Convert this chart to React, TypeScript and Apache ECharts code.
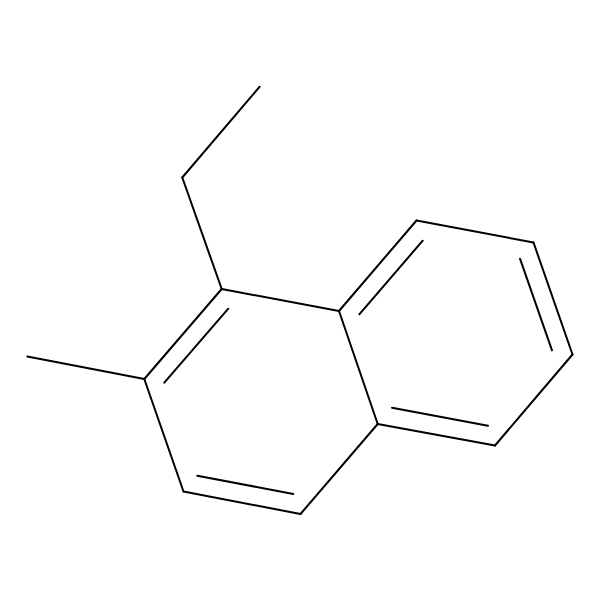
import React, { useEffect, useRef } from "react";
import * as echarts from "echarts";

// Skeleton bonds of 1-ethyl-2-methylnaphthalene: [x1, y1, x2, y2] in picture units
const ethylBonds = [
  [259.7, 86.7, 182.3, 177.5],
  [182.3, 177.5, 221.7, 289],
];
const methylBonds = [[27.3, 356.5, 144.3, 379]];
const leftRingBonds = [
  [221.7, 289, 339, 311],
  [339, 311, 377.7, 424],
  [377.7, 424, 300.5, 514],
  [300.5, 514, 183.5, 491.5],
  [183.5, 491.5, 144.3, 379],
  [144.3, 379, 221.7, 289],
];
const rightRingBonds = [
  [339, 311, 416.5, 220.5],
  [416.5, 220.5, 533.5, 242.5],
  [533.5, 242.5, 572.5, 354.5],
  [572.5, 354.5, 495, 445.5],
  [495, 445.5, 377.7, 424],
];
const innerDoubleBonds = [
  [228.3, 308.7, 164.3, 382.7],
  [197.3, 475.7, 293.3, 494],
  [422.7, 240.7, 359.3, 314.3],
  [520, 258.7, 552, 350.3],
  [488, 425.7, 392, 407.7],
];

const allBonds = [
  ...ethylBonds,
  ...methylBonds,
  ...leftRingBonds,
  ...rightRingBonds,
  ...innerDoubleBonds,
];

export default function App() {
  const ref = useRef<HTMLDivElement>(null);

  useEffect(() => {
    const chart = echarts.init(ref.current!, null, { renderer: "svg" });
    chart.setOption({
      animation: false,
      backgroundColor: "#ffffff",
      grid: { left: 0, right: 0, top: 0, bottom: 0 },
      xAxis: { type: "value", min: 0, max: 600, show: false },
      yAxis: { type: "value", min: 0, max: 600, inverse: true, show: false },
      tooltip: { show: false },
      series: [
        {
          type: "custom",
          coordinateSystem: "cartesian2d",
          silent: true,
          clip: false,
          encode: { x: [0, 2], y: [1, 3] },
          data: allBonds,
          renderItem: (_params: any, api: any) => {
            const p1 = api.coord([api.value(0), api.value(1)]);
            const p2 = api.coord([api.value(2), api.value(3)]);
            return {
              type: "line",
              shape: { x1: p1[0], y1: p1[1], x2: p2[0], y2: p2[1] },
              style: { stroke: "#000000", lineWidth: 2, lineCap: "round", fill: "none" },
            };
          },
        },
      ],
    });
    return () => chart.dispose();
  }, []);

  return (
    <div
      ref={ref}
      style={{ position: "absolute", left: 0, top: 0, width: 600, height: 600, background: "#fff" }}
    />
  );
}
